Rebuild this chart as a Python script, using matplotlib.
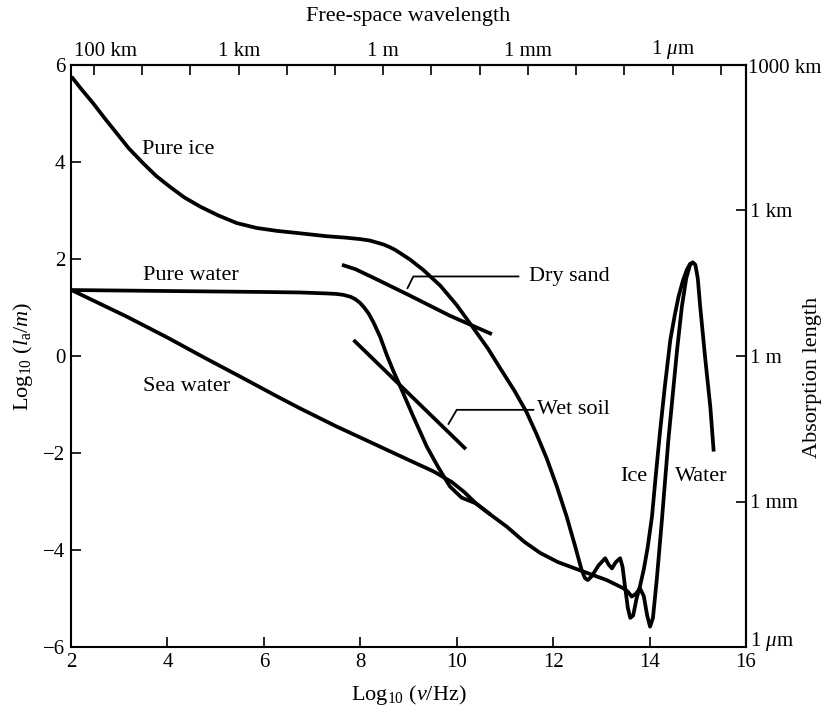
import matplotlib
matplotlib.use("Agg")
import matplotlib.pyplot as plt

plt.rcParams['font.family'] = ['Liberation Serif', 'DejaVu Serif']
plt.rcParams['mathtext.fontset'] = 'custom'
plt.rcParams['mathtext.rm'] = 'Liberation Serif'
plt.rcParams['mathtext.it'] = 'Liberation Serif:italic'
plt.rcParams['mathtext.bf'] = 'Liberation Serif:bold'

# log10(frequency / Hz) and log10(absorption length / m) for each material
pure_ice_x = [2.01, 2.20, 2.46, 2.70, 2.95, 3.20, 3.50, 3.77, 4.05, 4.35, 4.68, 5.05,
              5.44, 5.85, 6.27, 6.75, 7.30, 7.70, 8.00, 8.20, 8.34, 8.48,
              8.60, 8.72, 8.83, 9.03, 9.30, 9.66, 10.00, 10.35, 10.65, 10.90, 11.20, 11.45,
              11.66, 11.87, 12.08, 12.28, 12.45, 12.59, 12.66, 12.72, 12.80, 12.94,
              13.08, 13.15, 13.22, 13.30, 13.39, 13.44, 13.49, 13.55, 13.60, 13.66,
              13.73, 13.80, 13.88, 13.96, 14.05, 14.13, 14.22, 14.32, 14.43, 14.52,
              14.60, 14.69, 14.77, 14.84, 14.90]
pure_ice_y = [5.76, 5.52, 5.21, 4.90, 4.59, 4.28, 3.97, 3.71, 3.49, 3.27, 3.08, 2.90,
              2.74, 2.64, 2.58, 2.53, 2.47, 2.44, 2.41, 2.38, 2.34, 2.30,
              2.25, 2.19, 2.12, 1.99, 1.78, 1.45, 1.05, 0.57, 0.15, -0.25, -0.72, -1.16,
              -1.62, -2.12, -2.70, -3.31, -3.90, -4.41, -4.58, -4.62, -4.54, -4.32,
              -4.17, -4.30, -4.38, -4.25, -4.17, -4.35, -4.75, -5.20, -5.40, -5.35,
              -5.00, -4.75, -4.40, -3.95, -3.31, -2.45, -1.53, -0.60, 0.33, 0.83,
              1.22, 1.55, 1.77, 1.90, 1.93]

pure_water_x = [2.01, 3.00, 4.00, 5.00, 6.00, 6.75, 7.30, 7.50, 7.65, 7.80, 7.90, 8.00,
                8.08, 8.17, 8.27, 8.34, 8.41, 8.55, 8.69, 8.83, 9.10, 9.38, 9.62, 9.86,
                10.10, 10.40, 10.70, 11.04, 11.40, 11.73, 12.10, 12.56, 13.11, 13.46,
                13.55, 13.63, 13.72, 13.80, 13.88, 13.95, 14.01, 14.07, 14.15, 14.25,
                14.39, 14.57, 14.67, 14.76, 14.84, 14.90, 14.95, 15.00, 15.05, 15.15,
                15.26, 15.33]
pure_water_y = [1.36, 1.35, 1.34, 1.33, 1.32, 1.31, 1.29, 1.28, 1.26, 1.22, 1.17, 1.09,
                1.00, 0.88, 0.70, 0.55, 0.40, 0.02, -0.32, -0.63, -1.25, -1.87, -2.30,
                -2.69, -2.92, -3.04, -3.27, -3.52, -3.83, -4.06, -4.25, -4.42, -4.62,
                -4.79, -4.86, -4.96, -4.90, -4.79, -4.95, -5.35, -5.58, -5.40, -4.60,
                -3.45, -1.73, 0.12, 1.02, 1.60, 1.88, 1.93, 1.88, 1.60, 1.02, -0.01,
                -1.05, -1.97]

sea_water_x = [2.01, 3.16, 4.00, 4.74, 5.50, 6.25, 6.75, 7.50, 8.13, 8.80, 9.52, 9.90,
               10.15, 10.40, 10.70]
sea_water_y = [1.36, 0.81, 0.38, -0.02, -0.42, -0.82, -1.08, -1.45, -1.74, -2.05, -2.38,
               -2.60, -2.80, -3.04, -3.27]

dry_sand_x = [7.62, 7.90, 8.30, 9.00, 9.86, 10.73]
dry_sand_y = [1.88, 1.79, 1.60, 1.26, 0.83, 0.45]

wet_soil_x = [7.86, 10.19]
wet_soil_y = [0.33, -1.92]

# Leader lines for the two soil labels
dry_sand_leader_x = [8.98, 9.10, 11.28]
dry_sand_leader_y = [1.40, 1.64, 1.64]
wet_soil_leader_x = [9.83, 10.00, 11.59]
wet_soil_leader_y = [-1.40, -1.11, -1.11]

# Axis ticks
bottom_ticks = [2, 4, 6, 8, 10, 12, 14, 16]
left_ticks = [-6, -4, -2, 0, 2, 4, 6]
# Free-space wavelength ticks: log10(c / lambda), one per decade
wavelength_ticks = [2.477 + k for k in range(14)]
wavelength_labels = {5.477: '1 km', 8.477: '1 m', 11.477: '1 mm', 14.477: r'1 $\mu$m'}
length_ticks = [-6, -3, 0, 3, 6]
length_labels = ['', '1 mm', '1 m', '1 km', '']

fig = plt.figure(figsize=(8.31, 7.12), dpi=100)
ax = fig.add_axes([71 / 831, 1 - 647 / 712, 675 / 831, 582 / 712])

lw = 2.7
line_kw = dict(color='black', lw=lw, solid_capstyle='butt', solid_joinstyle='round')
ax.plot(pure_ice_x, pure_ice_y, **line_kw)
ax.plot(pure_water_x, pure_water_y, **line_kw)
ax.plot(sea_water_x, sea_water_y, **line_kw)
ax.plot(dry_sand_x, dry_sand_y, **line_kw)
ax.plot(wet_soil_x, wet_soil_y, **line_kw)
ax.plot(dry_sand_leader_x, dry_sand_leader_y, color='black', lw=1.3)
ax.plot(wet_soil_leader_x, wet_soil_leader_y, color='black', lw=1.3)

ax.set_xlim(2, 16)
ax.set_ylim(-6, 6)

fs_lab = 16
ax.text(3.47, 4.25, 'Pure ice', fontsize=fs_lab, va='center', ha='left')
ax.text(3.49, 1.67, 'Pure water', fontsize=fs_lab, va='center', ha='left')
ax.text(3.50, -0.62, 'Sea water', fontsize=fs_lab, va='center', ha='left')
ax.text(11.49, 1.63, 'Dry sand', fontsize=fs_lab, va='center', ha='left')
ax.text(11.67, -1.11, 'Wet soil', fontsize=fs_lab, va='center', ha='left')
ax.text(13.68, -2.49, 'Ice', fontsize=fs_lab, va='center', ha='center')
ax.text(15.08, -2.49, 'Water', fontsize=fs_lab, va='center', ha='center')

for s in ax.spines.values():
    s.set_linewidth(1.5)

fs_tick = 15
ax.set_xticks(bottom_ticks)
ax.set_yticks(left_ticks)
ax.set_yticklabels(['\u22126', '\u22124', '\u22122', '0', '2', '4', '6'])
ax.tick_params(direction='in', length=7, width=1.2, labelsize=fs_tick, pad=4)

top = ax.secondary_xaxis('top')
top.set_xticks(wavelength_ticks)
top.set_xticklabels([wavelength_labels.get(t, '') for t in wavelength_ticks])
top.tick_params(direction='in', length=7, width=1.2, labelsize=fs_tick, pad=3)
top.spines['top'].set_linewidth(1.5)
ax.text(2.71, 6.09, '100 km', fontsize=fs_tick, ha='center', va='bottom')

right = ax.secondary_yaxis('right')
right.set_yticks(length_ticks)
right.set_yticklabels(length_labels)
right.tick_params(direction='in', length=7, width=1.2, labelsize=fs_tick, pad=3)
right.spines['right'].set_linewidth(1.5)
# Corner labels of the absorption-length scale sit just inside the frame corners
ax.annotate('1000 km', xy=(1, 1), xycoords='axes fraction', xytext=(1.5, -2.5),
            textcoords='offset points', ha='left', va='center', fontsize=fs_tick)
ax.annotate(r'1 $\mu$m', xy=(1, 0), xycoords='axes fraction', xytext=(3, 4),
            textcoords='offset points', ha='left', va='center', fontsize=fs_tick)

ax.set_xlabel(r'Log$_{10}$ ($\nu$/Hz)', fontsize=16, labelpad=8)
ax.set_ylabel(r'Log$_{10}$ ($l_{\rm a}/m$)', fontsize=16, labelpad=6)
fig.text(408 / 831, 1 - 16 / 712, 'Free-space wavelength', fontsize=16,
         ha='center', va='center')
fig.text(812 / 831, 1 - 377 / 712, 'Absorption length', fontsize=16,
         ha='center', va='center', rotation=90)

fig.savefig('out.png', dpi=100)
